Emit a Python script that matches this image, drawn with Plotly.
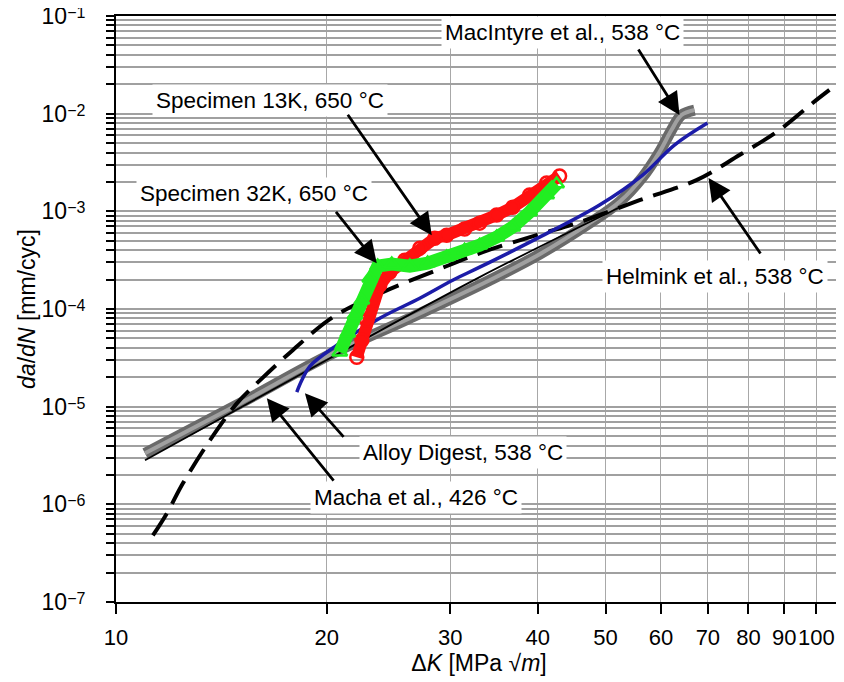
import plotly.graph_objects as go
import math

# ---------------- data ----------------
# MacIntyre et al., 538 °C (gray band)
mac_dk = [11.0, 15.03, 20.2, 26.27, 34.16, 40.26, 47.45, 52.36, 56.48, 59.70, 62.11, 64.18, 66.99]
mac_dadn = [3.33e-6, 1.08e-5, 3.40e-5, 8.05e-5, 1.97e-4, 3.64e-4, 7.57e-4, 1.25e-3, 2.24e-3, 4.04e-3, 6.79e-3, 9.68e-3, 1.09e-2]

# Macha et al., 426 °C (thin black line)
macha_dk = [11.0, 20.2, 33.06, 53.2]
macha_dadn = [2.83e-6, 3.13e-5, 2.12e-4, 1.16e-3]

# Alloy Digest, 538 °C (blue line)
alloy_dk = [18.12, 18.42, 18.91, 20.67, 23.80, 27.15, 30.25, 33.06, 40.26, 49.03, 56.48, 62.71, 69.91]
alloy_dadn = [1.41e-5, 1.86e-5, 2.59e-5, 4.26e-5, 8.05e-5, 1.29e-4, 1.97e-4, 2.68e-4, 5.44e-4, 1.16e-3, 2.35e-3, 4.77e-3, 8.01e-3]

# Helmink et al., 538 °C (dashed)
helm_dk = [11.29, 11.82, 12.46, 13.62, 14.88, 16.05, 17.88, 20.40, 24.04, 28.71, 33.39, 39.86, 45.91, 55.92, 67.43, 77.66, 88.55, 98.70, 104.4]
helm_dadn = [4.81e-7, 8.09e-7, 1.64e-6, 4.53e-6, 1.08e-5, 1.86e-5, 3.79e-5, 8.24e-5, 1.49e-4, 2.50e-4, 3.82e-4, 5.70e-4, 7.75e-4, 1.30e-3, 2.09e-3, 3.77e-3, 6.79e-3, 1.28e-2, 1.75e-2]

# Specimen 13K, 650 °C (red circles)
s13_dk = [22.07, 22.44, 22.81, 23.26, 23.80, 24.60, 25.84, 27.15, 28.52, 29.66, 31.46, 33.06, 34.96, 36.85, 38.96, 41.2, 42.99]
s13_dadn = [3.21e-5, 4.79e-5, 7.68e-5, 1.23e-4, 1.75e-4, 2.38e-4, 3.16e-4, 4.20e-4, 5.31e-4, 5.70e-4, 6.58e-4, 7.57e-4, 9.15e-4, 1.10e-3, 1.47e-3, 1.95e-3, 2.30e-3]

# Specimen 32K, 650 °C (green triangles)
s32_dk = [20.87, 21.43, 21.93, 22.44, 23.03, 23.64, 24.76, 26.27, 27.86, 29.66, 31.46, 33.06, 34.96, 36.85, 38.96, 41.2, 42.57]
s32_dadn = [3.61e-5, 5.65e-5, 8.63e-5, 1.23e-4, 2.07e-4, 2.75e-4, 2.88e-4, 2.75e-4, 2.95e-4, 3.40e-4, 4.0e-4, 4.50e-4, 5.44e-4, 6.89e-4, 9.82e-4, 1.47e-3, 1.90e-3]

x_ticks = [10, 20, 30, 40, 50, 60, 70, 80, 90, 100]
x_ticktext = ["10", "20", "30", "40", "50", "60", "70", "80", "90", "100"]
y_decades = [-7, -6, -5, -4, -3, -2, -1]

# label texts and their centres (data units)
labels = [
    ("MacIntyre et al., 538 °C", 43.4, 0.0670),
    ("Specimen 13K, 650 °C", 16.59, 0.01377),
    ("Specimen 32K, 650 °C", 15.74, 0.001537),
    ("Helmink et al., 538 °C", 71.77, 0.000217),
    ("Alloy Digest, 538 °C", 31.26, 3.41e-6),
    ("Macha et al., 426 °C", 26.79, 1.18e-6),
]
# arrow tips (data units) and tail offsets (px)
arrows = [
    (63.76, 9.68e-3, -42, -67),
    (28.24, 5.70e-4, -85, -122),
    (23.57, 2.94e-4, -42, -53),
    (70.15, 2.19e-3, 53, 77),
    (18.61, 1.37e-5, 40, 45),
    (16.42, 1.22e-5, 68, 84),
]

FONT = "Liberation Sans, Arial, sans-serif"

fig = go.Figure()

fig.add_trace(go.Scatter(x=mac_dk, y=mac_dadn, mode="lines",
                         line=dict(color="#6a6a6a", width=11, shape="spline"), showlegend=False))
fig.add_trace(go.Scatter(x=mac_dk, y=mac_dadn, mode="lines",
                         line=dict(color="#a0a0a0", width=4, shape="spline"), showlegend=False))
fig.add_trace(go.Scatter(x=macha_dk, y=macha_dadn, mode="lines",
                         line=dict(color="black", width=1.8, shape="spline"), showlegend=False))
fig.add_trace(go.Scatter(x=helm_dk, y=helm_dadn, mode="lines",
                         line=dict(color="black", width=4, dash="26px,11px", shape="spline"), showlegend=False))
fig.add_trace(go.Scatter(x=alloy_dk, y=alloy_dadn, mode="lines",
                         line=dict(color="#1c1ca8", width=3.5, shape="spline"), showlegend=False))
fig.add_trace(go.Scatter(x=s13_dk, y=s13_dadn, mode="lines+markers",
                         line=dict(color="#ff1010", width=12),
                         marker=dict(symbol="circle-open", size=13, color="#ff1010", line=dict(width=2.5)),
                         showlegend=False))
fig.add_trace(go.Scatter(x=s32_dk, y=s32_dadn, mode="lines+markers",
                         line=dict(color="#22ee22", width=13),
                         marker=dict(symbol="triangle-up-open", size=13, color="#22ee22", line=dict(width=2.5)),
                         showlegend=False))

for text, lx, ly in labels:
    fig.add_annotation(x=math.log10(lx), y=math.log10(ly), text=text, showarrow=False,
                       font=dict(size=22.5, color="black", family=FONT),
                       bgcolor="white", borderpad=3)

for tx, ty, ax, ay in arrows:
    fig.add_annotation(x=math.log10(tx), y=math.log10(ty), text="", showarrow=True,
                       ax=ax, ay=ay, arrowhead=2, arrowsize=1.6, arrowwidth=2.8, arrowcolor="black")

y_tickvals = []
y_ticktext = []
for e in y_decades:
    for m in range(1, 10):
        if e == -1 and m > 1:
            break
        y_tickvals.append(m * 10.0 ** e)
        y_ticktext.append("10<span style='font-size:16px;baseline-shift:6px'>\u2212%d</span>" % (-e) if m == 1 else "")

fig.update_xaxes(type="log", range=[1, math.log10(108.8)], automargin=False,
                 tickmode="array", tickvals=x_ticks, ticktext=x_ticktext, tickangle=0,
                 ticks="outside", ticklen=10, tickwidth=2, tickcolor="black",
                 ticklabelstandoff=5, ticklabeloverflow="allow",
                 showline=True, linewidth=2, linecolor="black", mirror=True,
                 showgrid=True, gridcolor="#a8a8a8", gridwidth=1, zeroline=False,
                 tickfont=dict(size=22, color="black", family=FONT),
                 title=dict(text="\u0394<i>K</i> [MPa \u221a<i>m</i>]", font=dict(size=23, color="black", family=FONT), standoff=3))
fig.update_yaxes(type="log", range=[-7, -1], automargin=False,
                 tickmode="array", tickvals=y_tickvals, ticktext=y_ticktext,
                 ticks="outside", ticklen=8, tickwidth=2, tickcolor="black",
                 ticklabelstandoff=16, ticklabeloverflow="allow",
                 showline=True, linewidth=2, linecolor="black", mirror=False,
                 showgrid=True, gridcolor="#a0a0a0", gridwidth=1.5, zeroline=False,
                 tickfont=dict(size=23, color="black", family=FONT),
                 title=dict(text="<i>da</i>/<i>dN</i> [mm/cyc]", font=dict(size=23, color="black", family=FONT), standoff=0))

fig.update_layout(width=836, height=674, margin=dict(l=108, r=2, t=8, b=80),
                  plot_bgcolor="white", paper_bgcolor="white", showlegend=False,
                  font=dict(family=FONT, color="black"))

fig.write_html("out.html")
